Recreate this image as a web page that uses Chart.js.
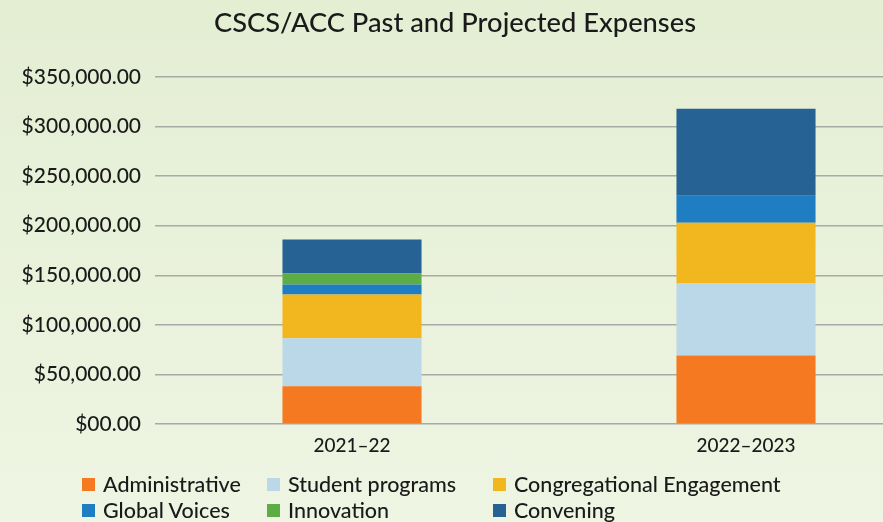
<!DOCTYPE html>
<html>
<head>
<meta charset="utf-8">
<script src="https://cdn.jsdelivr.net/npm/chart.js@4.4.1/dist/chart.umd.min.js"></script>
<style>
  html, body {
    margin: 0;
    padding: 0;
    width: 883px;
    height: 522px;
    overflow: hidden;
    background: linear-gradient(to bottom, #e4eed3 0%, #eef5e3 100%);
    font-family: "Lato", sans-serif;
    color: #1a1a1a;
  }
  #title {
    position: absolute;
    left: 0;
    top: 5px;
    width: 910px;
    text-align: center;
    font-size: 27.3px;
    font-weight: 500;
    line-height: 34px;
  }
  #wrap {
    position: absolute;
    left: 0;
    top: 0;
    width: 950px;
    height: 522px;
  }
  #legend {
    position: absolute;
    left: 82px;
    top: 471px;
    display: grid;
    grid-template-columns: 185px 226px auto;
    grid-auto-rows: 26px;
    font-size: 21.5px;
    font-weight: 500;
  }
  .item { display: flex; align-items: center; white-space: nowrap; }
  .box { width: 13px; height: 13px; margin-right: 8px; flex: none; }
</style>
</head>
<body>
<div id="wrap"><canvas id="expChart" width="950" height="522"></canvas></div>
<div id="title">CSCS/ACC Past and Projected Expenses</div>
<div id="legend"></div>
<script>
const categories = ["2021–22", "2022–2023"];
const administrative = [38000, 69000];
const studentPrograms = [48400, 72600];
const congregational = [44300, 61500];
const globalVoices = [10100, 27200];
const innovation = [11100, 0];
const convening = [34300, 87700];

const yTicks = { min: 0, max: 350000, step: 50000 };

const seriesNames = ["Administrative", "Student programs", "Congregational Engagement", "Global Voices", "Innovation", "Convening"];
const seriesData = [administrative, studentPrograms, congregational, globalVoices, innovation, convening];
const seriesColors = ["#f47920", "#bbd8e8", "#f2b71e", "#1f7dc1", "#5eac45", "#266293"];

function formatMoney(v) {
  if (v === 0) return "$00.00";
  return "$" + v.toLocaleString("en-US", { minimumFractionDigits: 2, maximumFractionDigits: 2 });
}

const ctx = document.getElementById("expChart").getContext("2d");

const chart = new Chart(ctx, {
  type: "bar",
  data: {
    labels: categories,
    datasets: seriesNames.map((name, i) => ({
      label: name,
      data: seriesData[i],
      backgroundColor: seriesColors[i],
      borderWidth: 0,
      categoryPercentage: 1,
      barPercentage: 0.353,
    })),
  },
  options: {
    responsive: false,
    animation: false,
    layout: {
      padding: { top: 77, right: 7, bottom: 68, left: 0 },
    },
    plugins: {
      legend: { display: false },
      title: { display: false },
      tooltip: { enabled: false },
    },
    scales: {
      x: {
        stacked: true,
        grid: { display: false },
        border: { display: false },
        ticks: {
          color: "#1a1a1a",
          font: { family: "Lato", size: 19, weight: 500 },
          padding: 2,
        },
        afterFit: (scale) => { scale.height = 30; },
      },
      y: {
        stacked: true,
        min: yTicks.min,
        max: yTicks.max,
        border: { display: false },
        grid: { color: "#a9aaa5", lineWidth: 1.5, drawTicks: false },
        ticks: {
          stepSize: yTicks.step,
          color: "#1a1a1a",
          font: { family: "Lato", size: 21, weight: 500 },
          padding: 14,
          callback: (v) => formatMoney(v),
        },
        afterFit: (scale) => { scale.width = 155; },
      },
    },
  },
});

// legend laid out in columns like the original
const legendEl = document.getElementById("legend");
chart.data.datasets.forEach((ds) => {
  const item = document.createElement("div");
  item.className = "item";
  const box = document.createElement("span");
  box.className = "box";
  box.style.background = ds.backgroundColor;
  item.appendChild(box);
  item.appendChild(document.createTextNode(ds.label));
  legendEl.appendChild(item);
});
</script>
</body>
</html>
